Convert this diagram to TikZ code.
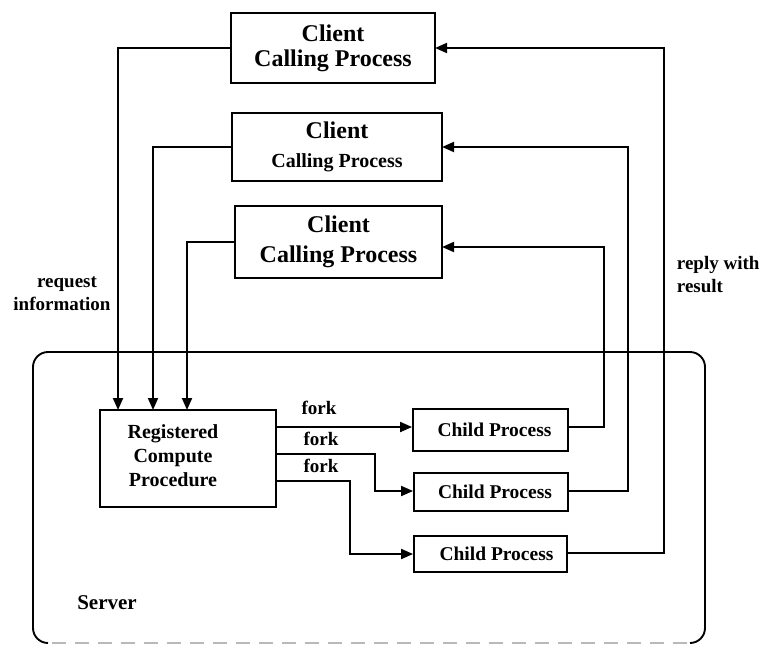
\documentclass[tikz,border=0pt]{standalone}
\usepackage{fontspec}
\setmainfont{Liberation Serif}
\usetikzlibrary{arrows.meta,calc}
\begin{document}
\begin{tikzpicture}[x=1pt,y=-1pt,
  line width=1.9pt,
  box/.style={draw,line width=1.9pt,inner sep=0pt,align=center},
  arr/.style={-{Triangle[length=12pt,width=10pt]}},
  lbl/.style={font=\bfseries\fontsize{19}{23}\selectfont,inner sep=0pt}]
\useasboundingbox (0,0) rectangle (765,645);

% server frame: solid sides, faint broken bottom edge
\draw[rounded corners=15pt] (48,643) -- (33,643) -- (33,352) -- (705,352) -- (705,643) -- (690,643);
\draw[gray!55,line width=1.4pt,dash pattern=on 14pt off 9pt] (52,643) -- (688,643);
\node[lbl,font=\bfseries\fontsize{21}{23}\selectfont] (srv) at (107,603) {Server};

% client processes
\node[box,minimum width=204pt,minimum height=70pt,font=\bfseries\fontsize{24}{25}\selectfont]
  (c1) at (333,48) {Client\\Calling Process};
\node[box,minimum width=210pt,minimum height=68pt,font=\bfseries\fontsize{24}{29}\selectfont] (c2) at (337,147)
  {Client\\{\fontsize{20}{29}\selectfont Calling Process}};
\node[box,minimum width=207pt,minimum height=72pt,font=\bfseries\fontsize{24}{30}\selectfont]
  (c3) at (338.5,242) {Client\\Calling Process};

% registered procedure and children
\node[draw,line width=1.9pt,minimum width=176pt,minimum height=97pt,inner sep=0pt] (rc) at (188,458.5) {};
\node[lbl,align=center,font=\bfseries\fontsize{20}{24}\selectfont] (rct) at (173,456) {Registered\\Compute\\Procedure};
\node[box,minimum width=155pt,minimum height=42pt,font=\bfseries\fontsize{19.5}{20}\selectfont] (ch1) at (490.5,430) {\hspace*{8pt}Child Process};
\node[box,minimum width=154pt,minimum height=38pt,font=\bfseries\fontsize{19.5}{20}\selectfont] (ch2) at (491,492) {\hspace*{8pt}Child Process};
\node[box,minimum width=153pt,minimum height=36pt,font=\bfseries\fontsize{19.5}{20}\selectfont] (ch3) at (490.5,554) {\hspace*{12pt}Child Process};

% connector bend points
\coordinate (in1) at (118,410);
\coordinate (in2) at (153,410);
\coordinate (in3) at (187,410);
\coordinate (fa) at (276,427);
\coordinate (fb) at (276,454);
\coordinate (fc) at (276,481);
\coordinate (ra) at (568,427);
\coordinate (rb) at (568,491);
\coordinate (rc3) at (567,553);
\coordinate (e1) at (435,48);
\coordinate (e2) at (442,147);
\coordinate (e3) at (442,247);

% requests
\draw[arr] (c1.west) -| (in1);
\draw[arr] (c2.west) -| (in2);
\draw[arr] (c3.west) -| (in3);

% forks
\draw[arr] (fa) -- (ch1.west |- fa);
\draw[arr] (fb) -- (375,454) -- (375,491) -- (ch2.west |- rb);
\draw[arr] (fc) -- (350,481) -- (350,554) -- (ch3.west);

% replies
\draw[arr] (ra) -- (604,427) -- (604,247) -- (e3);
\draw[arr] (rb) -- (628,491) -- (628,147) -- (e2);
\draw[arr] (rc3) -- (664,553) -- (664,48) -- (e1);

% labels
\node[lbl] (fk1) at (319,408) {fork};
\node[lbl] (fk2) at (321,439) {fork};
\node[lbl] (fk3) at (321,466) {fork};
\node[lbl,align=center] (req) at (62,294) {\hspace*{10pt}request\\information};
\node[lbl,align=left,anchor=west] (rep) at (676,275) {reply with\\result};
\end{tikzpicture}
\end{document}
